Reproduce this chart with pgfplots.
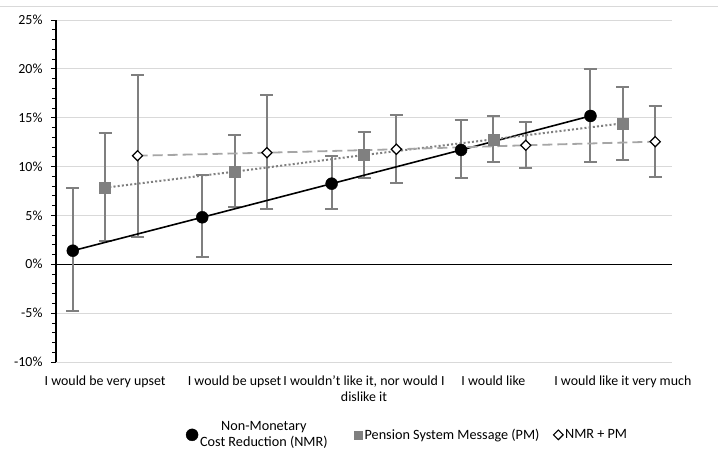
\documentclass[border=0pt]{standalone}
\usepackage{fontspec}
\setmainfont{Carlito}
\usepackage{pgfplots}
\pgfplotsset{compat=1.18}
\usepackage{pgfplotstable}

\definecolor{errgray}{HTML}{7F7F7F}
\definecolor{pmgray}{HTML}{808080}
\definecolor{dashgray}{HTML}{A6A6A6}
\definecolor{gridgray}{HTML}{D9D9D9}

% x: position (categories at 1..5), y: share in %, ep/em: upper/lower error
\pgfplotstableread{
x    y     ep    em
0.75 1.39  6.39  6.17
1.75 4.81  4.33  4.06
2.75 8.25  2.83  2.59
3.75 11.70 3.07  2.84
4.75 15.18 4.77  4.74
}\nmr
\pgfplotstableread{
x    y     ep    em
1    7.84  5.63  5.42
2    9.48  3.75  3.65
3    11.18 2.39  2.32
4    12.79 2.42  2.35
5    14.43 3.74  3.76
}\pm
\pgfplotstableread{
x    y     ep    em
1.25 11.11 8.29  8.35
2.25 11.42 5.87  5.76
3.25 11.77 3.51  3.42
4.25 12.18 2.35  2.29
5.25 12.55 3.65  3.59
}\nmrpm

\begin{document}
\begin{tikzpicture}[font=\fontsize{13.9}{16}\selectfont]
\begin{axis}[
  scale only axis,
  width=616pt, height=342pt,
  xmin=0.62, xmax=5.38,
  ymin=-10, ymax=25,
  axis lines*=left,
  x axis line style={draw=none},
  y axis line style={black, line width=1.2pt},
  xtick={1,2,3,4,5},
  xticklabels={I would be very upset, I would be upset, {I wouldn't like it, nor would I\\dislike it}, I would like, I would like it very much},
  xticklabel style={align=center, yshift=-5pt, font=\fontsize{13.9}{16}\selectfont},
  major x tick style={draw=none},
  ytick={-10,-5,...,25},
  minor y tick num=4,
  yticklabel={\pgfmathprintnumber{\tick}\%},
  yticklabel style={xshift=-5pt, font=\fontsize{13.9}{16}\selectfont},
  /pgf/number format/assume math mode=true,
  tick align=outside,
  ytick pos=left,
  major tick length=5pt,
  minor tick length=4pt,
  every tick/.style={black, line width=0.8pt},
  ymajorgrids,
  grid style={gridgray, line width=1pt},
  extra y ticks={0},
  extra y tick labels={},
  extra y tick style={grid style={black, line width=1.2pt}, major tick length=0pt},
  legend columns=3,
  legend style={at={(0.206,-0.213)}, anchor=west, draw=none, fill=none,
    nodes={align=center, font=\fontsize{14.2}{16}\selectfont},
    /tikz/column 2/.style={column sep=25pt},
    /tikz/column 4/.style={column sep=12pt}},
  legend cell align=left,
]
\coordinate (sw) at (rel axis cs:0,0);

\addplot[only marks, mark=*, mark size=6pt, black,
  legend image code/.code={\draw[only marks, mark=*, mark size=6pt, black] plot coordinates {(0pt,0pt)};},
  error bars/.cd, y dir=both, y explicit,
  error bar style={errgray, line width=2pt},
  error mark options={rotate=90, mark size=6.5pt, errgray, line width=2pt}]
  table[x=x, y=y, y error plus=ep, y error minus=em]{\nmr};
\addlegendentry{Non-Monetary\\Cost Reduction (NMR)}

\addplot[only marks, mark=square*, mark size=5.5pt, pmgray, mark options={draw=pmgray, fill=pmgray},
  legend image code/.code={\draw[only marks, mark=square*, mark size=4pt, pmgray] plot coordinates {(0pt,0pt)};},
  error bars/.cd, y dir=both, y explicit,
  error bar style={errgray, line width=2pt},
  error mark options={rotate=90, mark size=6.5pt, errgray, line width=2pt}]
  table[x=x, y=y, y error plus=ep, y error minus=em]{\pm};
\addlegendentry{Pension System Message (PM)}

\addplot[only marks, mark=square*, mark size=3.6pt, black,
  mark options={rotate=45, draw=black, fill=white, line width=1.2pt},
  legend image code/.code={\draw[only marks, mark=square*, mark size=3.4pt, black, mark options={rotate=45, draw=black, fill=white, line width=1.1pt}] plot coordinates {(0pt,0pt)};},
  error bars/.cd, y dir=both, y explicit,
  error bar style={errgray, line width=2pt},
  error mark options={rotate=90, mark size=6.5pt, errgray, line width=2pt}]
  table[x=x, y=y, y error plus=ep, y error minus=em]{\nmrpm};
\addlegendentry{NMR + PM}

% trend lines drawn over the markers
\addplot[forget plot, black, line width=1.6pt] table[x=x, y=y]{\nmr};
\addplot[forget plot, errgray, line width=2pt, dash pattern=on 2pt off 2.2pt] table[x=x, y=y]{\pm};
\addplot[forget plot, dashgray, line width=1.8pt, dash pattern=on 10pt off 5pt] table[x=x, y=y]{\nmrpm};
\end{axis}
\draw[gridgray, line width=0.8pt] ([shift={(-56pt,356pt)}]sw) -- ++(718pt,0pt);
\pgfresetboundingbox
\useasboundingbox ([shift={(-56pt,-86pt)}]sw) rectangle ++(718pt,448pt);
\end{tikzpicture}
\end{document}
